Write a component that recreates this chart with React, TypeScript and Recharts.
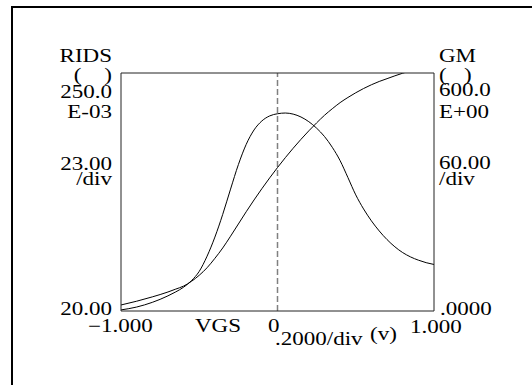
import React from 'react';
import { LineChart, Line, XAxis, YAxis, ReferenceLine } from 'recharts';

// VGS sweep (volts)
const vgs = [-1, -0.9, -0.8, -0.7, -0.65, -0.6, -0.55, -0.5, -0.45, -0.4, -0.35, -0.3, -0.25, -0.2, -0.15, -0.1, -0.05, 0, 0.05, 0.1, 0.15, 0.2, 0.25, 0.3, 0.35, 0.4, 0.45, 0.5, 0.55, 0.6, 0.65, 0.7, 0.75, 0.8, 0.85, 0.9, 0.95, 1];
// GM (right axis, 0 .. 660)
const gmValues = [3, 11, 24, 42, 53, 66, 84, 110, 152, 205, 268, 338, 406, 462, 502, 527, 541, 547, 549, 546, 538, 525, 507, 484, 454, 417, 370, 322, 283, 250, 222, 198, 178, 162, 150, 141, 134, 129];
// RIDS (left axis, 20 .. 273 E-03)
const ridsValues = [26.4, 30.4, 35, 40.2, 43.3, 46.5, 51.5, 58, 66, 76, 87, 99.5, 112.5, 125.5, 138, 150, 161.5, 172.5, 183, 193, 202.5, 211.5, 220, 228, 235, 241.5, 247, 252, 256.5, 260.5, 264, 267, 270, 272.8, 275.3, 277.5, 279.5, 281.3];

const xTicks = [-0.8, -0.6, -0.4, -0.2, 0, 0.2, 0.4, 0.6, 0.8];
const leftTicks = [43, 66, 89, 112, 135, 158, 181, 204, 227, 250];
const rightTicks = [60, 120, 180, 240, 300, 360, 420, 480, 540, 600];

const leftLabels = ['RIDS', '(    )', '250.0', 'E-03', '23.00', '/div', '20.00'];
const rightLabels = ['GM', '(   )', '600.0', 'E+00', '60.00', '/div', '.0000'];
const bottomLabels = ['\u22121.000', 'VGS', '0', '.2000/div', '(v)', '1.000'];

const data = vgs.map((x, i) => ({ x, gm: gmValues[i], rids: ridsValues[i] }));

const FONT = 'Liberation Serif, Times New Roman, serif';
const FS = 18;
const SX = 1.28;

type Anchor = 'start' | 'end' | 'middle';

function T({ x, y, anchor = 'start', children }: { x: number; y: number; anchor?: Anchor; children: React.ReactNode }) {
  return (
    <text
      transform={`translate(${x},${y}) scale(${SX},1)`}
      x={0}
      y={0}
      textAnchor={anchor}
      fontFamily={FONT}
      fontSize={FS}
      fill="#000"
      style={{ whiteSpace: 'pre' }}
    >
      {children}
    </text>
  );
}

function Block({ x, anchor, lines }: { x: number; anchor: Anchor; lines: { t: string; y: number }[] }) {
  return (
    <text
      transform={`translate(${x},0) scale(${SX},1)`}
      textAnchor={anchor}
      fontFamily={FONT}
      fontSize={FS}
      fill="#000"
      style={{ whiteSpace: 'pre' }}
    >
      {lines.map((l, i) => (
        <tspan key={i} x={0} y={l.y}>
          {l.t}
        </tspan>
      ))}
    </text>
  );
}

export default function App() {
  const axisStroke = '#222';
  return (
    <div style={{ position: 'absolute', left: 0, top: 0, width: 532, height: 385, background: '#fff' }}>
      <LineChart width={532} height={385} data={data} margin={{ top: 73, right: 98, bottom: 74, left: 121 }}>
        <XAxis
          xAxisId="b"
          dataKey="x"
          type="number"
          domain={[-1, 1]}
          ticks={xTicks}
          interval={0}
          mirror
          tick={false}
          tickSize={5}
          axisLine={{ stroke: axisStroke }}
          tickLine={{ stroke: axisStroke }}
          allowDataOverflow
        />
        <XAxis
          xAxisId="t"
          orientation="top"
          dataKey="x"
          type="number"
          domain={[-1, 1]}
          mirror
          tick={false}
          tickLine={false}
          axisLine={{ stroke: axisStroke }}
        />
        <YAxis
          yAxisId="l"
          type="number"
          domain={[20, 273]}
          ticks={leftTicks}
          interval={0}
          mirror
          tick={false}
          tickSize={5}
          axisLine={{ stroke: axisStroke }}
          tickLine={{ stroke: axisStroke }}
          allowDataOverflow
        />
        <YAxis
          yAxisId="r"
          orientation="right"
          type="number"
          domain={[0, 660]}
          ticks={rightTicks}
          interval={0}
          mirror
          tick={false}
          tickSize={5}
          axisLine={{ stroke: axisStroke }}
          tickLine={{ stroke: axisStroke }}
          allowDataOverflow
        />
        <ReferenceLine xAxisId="b" yAxisId="l" x={0} stroke="#808080" strokeWidth={1.5} strokeDasharray="6 3" />
        <Line xAxisId="b" yAxisId="r" dataKey="gm" type="monotone" stroke="#000" strokeWidth={1} dot={false} isAnimationActive={false} />
        <Line xAxisId="b" yAxisId="l" dataKey="rids" type="monotone" stroke="#000" strokeWidth={1} dot={false} isAnimationActive={false} />
      </LineChart>
      <svg width={532} height={385} style={{ position: 'absolute', left: 0, top: 0, pointerEvents: 'none' }}>
        <rect x={12} y={7} width={560} height={420} fill="none" stroke="#000" strokeWidth={2} />
        {/* left column */}
        <Block
          x={112}
          anchor="end"
          lines={[
            { t: leftLabels[0], y: 62 },
            { t: leftLabels[1], y: 81 },
            { t: leftLabels[2], y: 98 },
            { t: leftLabels[3], y: 118.5 },
          ]}
        />
        <Block
          x={112}
          anchor="end"
          lines={[
            { t: leftLabels[4], y: 170 },
            { t: leftLabels[5], y: 185 },
          ]}
        />
        <T x={112} y={315} anchor="end">{leftLabels[6]}</T>
        {/* right column */}
        <Block
          x={439}
          anchor="start"
          lines={[
            { t: rightLabels[0], y: 62 },
            { t: rightLabels[1], y: 81 },
            { t: rightLabels[2], y: 96 },
            { t: rightLabels[3], y: 118.5 },
          ]}
        />
        <Block
          x={439}
          anchor="start"
          lines={[
            { t: rightLabels[4], y: 169.5 },
            { t: rightLabels[5], y: 185 },
          ]}
        />
        <T x={440} y={315}>{rightLabels[6]}</T>
        {/* bottom */}
        <T x={88} y={332}>{bottomLabels[0]}</T>
        <T x={195} y={331.5}>{bottomLabels[1]}</T>
        <T x={268} y={331.5}>{bottomLabels[2]}</T>
        <T x={275} y={345}>{bottomLabels[3]}</T>
        <T x={370} y={340}>{bottomLabels[4]}</T>
        <T x={410} y={333}>{bottomLabels[5]}</T>
      </svg>
    </div>
  );
}
